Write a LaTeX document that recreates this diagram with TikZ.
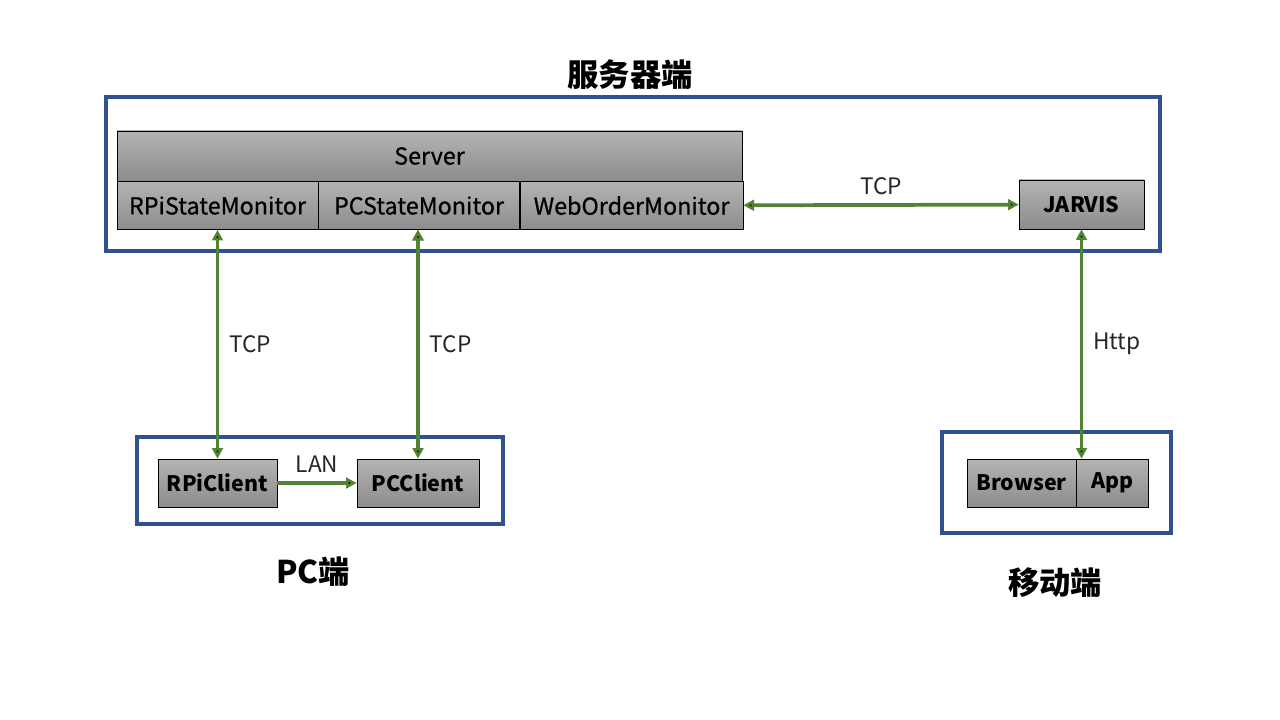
\documentclass[tikz,border=0pt]{standalone}
\usepackage{fontspec}
\setmainfont{Noto Sans CJK SC}
\newfontfamily\semifont[FakeBold=0.6]{Noto Sans CJK SC}
\usetikzlibrary{arrows.meta,positioning}

\definecolor{framblue}{RGB}{47,82,143}
\definecolor{linkgreen}{RGB}{84,130,53}
\definecolor{shadetop}{RGB}{180,180,180}
\definecolor{shadebot}{RGB}{140,140,140}
\definecolor{labgray}{RGB}{38,38,38}

\begin{document}
\begin{tikzpicture}[x=0.75pt,y=-0.75pt]
        \tikzset{block/.style= {draw, rectangle, align=center, top color=shadetop, bottom color=shadebot, inner sep=0pt, font=\fontsize{17.5}{20}\semifont},
        bblock/.style={block, font=\fontsize{16}{19}\selectfont\bfseries},
        group/.style={draw=framblue, line width=2.4pt},
        link/.style={draw=linkgreen, line width=2.8pt, {Triangle[length=8pt,width=8pt]}-{Triangle[length=8pt,width=8pt]}},
        linkone/.style={draw=linkgreen, line width=2.8pt, -{Triangle[length=8pt,width=8pt]}},
        lab/.style={text=labgray, font=\fontsize{17}{20}\selectfont},
        title/.style={font=\fontsize{23.5}{26}\selectfont\bfseries}
        }
        \useasboundingbox (0,0) rectangle (1280,720);

%% groups
        \draw[group] (106,97) rectangle (1160,251);
        \draw[group] (137,437) rectangle (503,524);
        \draw[group] (942,432) rectangle (1171,533);
        \node [title] (servtitle) at (630,75) {服务器端};
        \node [title] (pctitle) at (313,572) {PC端};
        \node [title] (mobtitle) at (1055,583) {移动端};

%% server side
        \node [block, minimum width=468.75pt, minimum height=37.5pt] (server) at (429.5,156) {Server};
        \node [block, minimum width=150.75pt, minimum height=36pt, below right=0pt and 0pt of server.south west] (rpimon) {RPiStateMonitor};
        \node [block, minimum width=150.75pt, minimum height=36pt, right=0pt of rpimon] (pcmon) {PCStateMonitor};
        \node [block, minimum width=167.25pt, minimum height=36pt, right=0pt of pcmon] (webmon) {WebOrderMonitor};
        \node [bblock, minimum width=93.75pt, minimum height=36.75pt] (jarvis) at (1081.5,204.5) {JARVIS};

%% pc side
        \node [bblock, minimum width=89.25pt, minimum height=36pt] (rpicli) at (217.5,483) {RPiClient};
        \node [bblock, minimum width=91.5pt, minimum height=36pt] (pccli) at (418,483) {PCClient};

%% mobile side
        \node [bblock, minimum width=81.75pt, minimum height=36pt] (browser) at (1021.5,483) {Browser};
        \node [bblock, minimum width=54pt, minimum height=36pt, right=0pt of browser] (app) {App};
        \coordinate (mobtop) at (jarvis.south |- app.north);

%% paths
        \path[link] (webmon) edge node[lab, above=3pt] (tcpa) {TCP} (jarvis);
        \path[link] (rpimon) edge node[lab, right=4pt] (tcpb) {TCP} (rpicli);
        \path[link] (pcmon.south -| pccli) edge node[lab, right=4pt] (tcpc) {TCP} (pccli);
        \path[link] (jarvis) edge node[lab, right=4pt] (http) {Http} (mobtop);
        \path[linkone] (rpicli) edge node[lab, above=3pt] (lan) {LAN} (pccli);
    \end{tikzpicture}
\end{document}
